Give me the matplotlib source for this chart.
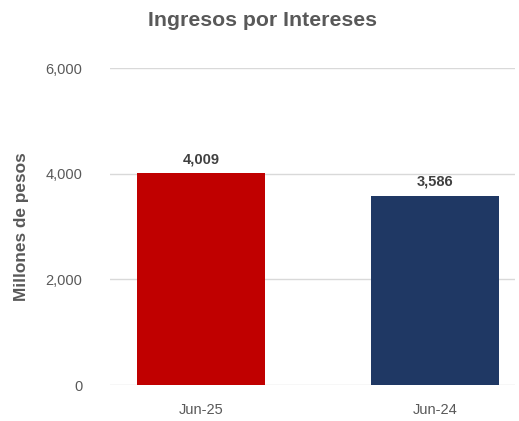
import matplotlib.pyplot as plt
from matplotlib.ticker import FuncFormatter

categories = ["Jun-25", "Jun-24"]
values = [4009, 3586]
colors = ["#C00000", "#1F3864"]
y_ticks = [0, 2000, 4000, 6000]

plt.rcParams["font.family"] = ["Liberation Sans", "DejaVu Sans"]

fig = plt.figure(figsize=(5.19, 4.21), dpi=100)
ax = fig.add_axes([0.212, 0.0855, 0.78, 0.7525])

x = range(len(categories))
bars = ax.bar(x, values, width=0.547, color=colors, zorder=2)
for bar, v in zip(bars, values):
    ax.annotate(f"{v:,}", (bar.get_x() + bar.get_width() / 2, v),
                xytext=(0, 5), textcoords="offset points",
                ha="center", va="bottom", fontsize=10.5,
                fontweight="bold", color="#404040")

ax.set_ylim(0, 6000)
ax.set_xlim(-0.389, 1.341)
ax.set_yticks(y_ticks)
ax.yaxis.set_major_formatter(FuncFormatter(lambda v, _: f"{int(v):,}"))
ax.set_xticks(list(x))
ax.set_xticklabels(categories)
ax.grid(axis="y", color="#D9D9D9", linewidth=1, zorder=0)
for s in ax.spines.values():
    s.set_visible(False)
ax.tick_params(axis="both", length=0, labelsize=10.5, labelcolor="#595959")
ax.tick_params(axis="y", pad=20)
ax.tick_params(axis="x", pad=13)

ax.set_ylabel("Millones de pesos", fontsize=12.4, fontweight="bold",
              color="#595959", labelpad=12)
fig.suptitle("Ingresos por Intereses", x=0.505, y=0.975, fontsize=15.3,
             fontweight="bold", color="#595959")

fig.savefig("out.png", dpi=100)
